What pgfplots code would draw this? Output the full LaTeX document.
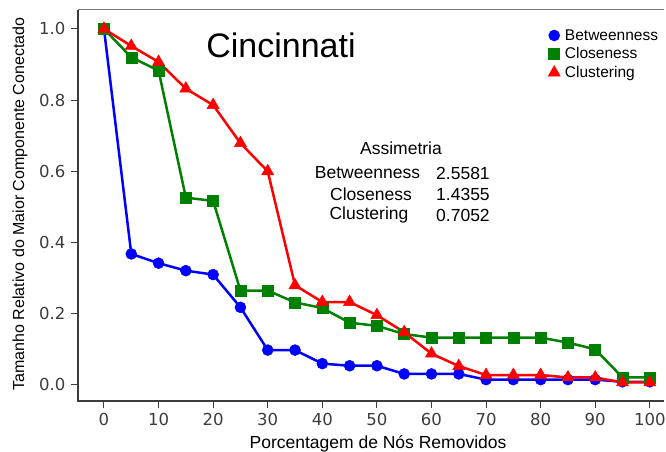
\documentclass[border=0pt]{standalone}
\usepackage{fontspec}
\setmainfont{Liberation Sans}
\newfontfamily\dejavu{DejaVu Sans}
\usepackage{pgfplots}
\pgfplotsset{compat=1.18}
\definecolor{mblue}{RGB}{0,0,255}
\definecolor{mgreen}{RGB}{0,128,0}
\definecolor{mred}{RGB}{255,0,0}
\definecolor{tickgray}{RGB}{60,60,60}
\begin{document}
\begin{tikzpicture}[x=1pt,y=1pt]
\path[use as bounding box] (0,0) rectangle (666,452);
\begin{axis}[
  at={(78pt,51pt)}, anchor=south west,
  scale only axis, width=586pt, height=391pt,
  xmin=-4.76, xmax=102.6, ymin=-0.045, ymax=1.053,
  axis line style={draw=none},
  xtick={0,10,20,30,40,50,60,70,80,90,100},
  ytick={0,0.2,0.4,0.6,0.8,1.0},
  yticklabel={\pgfmathprintnumber[fixed,fixed zerofill,precision=1]{\tick}},
  tick align=outside, xtick pos=bottom, ytick pos=left,
  major tick length=7pt,
  tick style={tickgray, line width=1pt},
  ticklabel style={font=\dejavu\fontsize{16.5}{18}\selectfont, text=tickgray},
  xticklabel style={yshift=-4pt, inner sep=1pt},
  yticklabel style={xshift=-2pt},
  /pgf/number format/assume math mode=true,
  clip=false,
  legend style={draw=none, fill=none, at={(axis description cs:0.802,0.956)}, anchor=north west,
    font=\fontsize{15.5}{17}\selectfont, row sep=2pt, inner sep=0pt},
  legend cell align=left,
  legend image code/.code={\draw[#1, only marks] plot coordinates {(4pt,0pt)}; \path (11.5pt,0pt);},
]
\addplot[mblue, line width=2.5pt, mark=*, mark size=5.5pt, mark options={solid, line width=0.5pt}] coordinates {
(0,1.0)(5,0.368)(10,0.342)(15,0.321)(20,0.310)(25,0.218)(30,0.098)(35,0.098)(40,0.060)(45,0.054)(50,0.054)(55,0.031)(60,0.031)(65,0.031)(70,0.015)(75,0.015)(80,0.015)(85,0.015)(90,0.015)(95,0.009)(100,0.009)};
\addlegendentry{Betweenness}
\addplot[mgreen, line width=2.5pt, mark=square*, mark size=5.5pt, mark options={solid, line width=0.5pt}] coordinates {
(0,1.0)(5,0.920)(10,0.883)(15,0.526)(20,0.517)(25,0.265)(30,0.265)(35,0.232)(40,0.216)(45,0.175)(50,0.166)(55,0.143)(60,0.133)(65,0.133)(70,0.133)(75,0.133)(80,0.133)(85,0.119)(90,0.100)(95,0.021)(100,0.021)};
\addlegendentry{Closeness}
\addplot[mred, line width=2.5pt, mark=triangle*, mark size=7pt, mark options={solid, line width=0.5pt}] coordinates {
(0,1.0)(5,0.952)(10,0.907)(15,0.832)(20,0.786)(25,0.679)(30,0.600)(35,0.280)(40,0.233)(45,0.233)(50,0.196)(55,0.148)(60,0.088)(65,0.053)(70,0.028)(75,0.028)(80,0.028)(85,0.021)(90,0.021)(95,0.007)(100,0.007)};
\addlegendentry{Clustering}
\draw[tickgray, line width=1.2pt] (rel axis cs:0,1) -- (rel axis cs:0,0) -- (rel axis cs:1,0);
\draw[tickgray!70, line width=1pt] (rel axis cs:0,1) -- (rel axis cs:1,1);
\end{axis}
\node[font=\fontsize{34}{40}\selectfont] at (281,407) {Cincinnati};
\node[font=\fontsize{17.5}{20}\selectfont] at (401,304) {Assimetria};
\node[font=\fontsize{17.5}{20}\selectfont] at (367.5,279) {Betweenness};
\node[font=\fontsize{17.5}{20}\selectfont] at (371,258) {Closeness};
\node[font=\fontsize{17.5}{20}\selectfont] at (369,237) {Clustering};
\node[font=\fontsize{17.5}{20}\selectfont, anchor=west, inner sep=0pt] at (436,279) {2.5581};
\node[font=\fontsize{17.5}{20}\selectfont, anchor=west, inner sep=0pt] at (436,258) {1.4355};
\node[font=\fontsize{17.5}{20}\selectfont, anchor=west, inner sep=0pt] at (436,237) {0.7052};
\node[font=\fontsize{17.5}{20}\selectfont, inner sep=0pt, anchor=base] at (378,3) {Porcentagem de Nós Removidos};
\node[font=\fontsize{16}{18}\selectfont, rotate=90] at (20,248) {Tamanho Relativo do Maior Componente Conectado};
\end{tikzpicture}
\end{document}
